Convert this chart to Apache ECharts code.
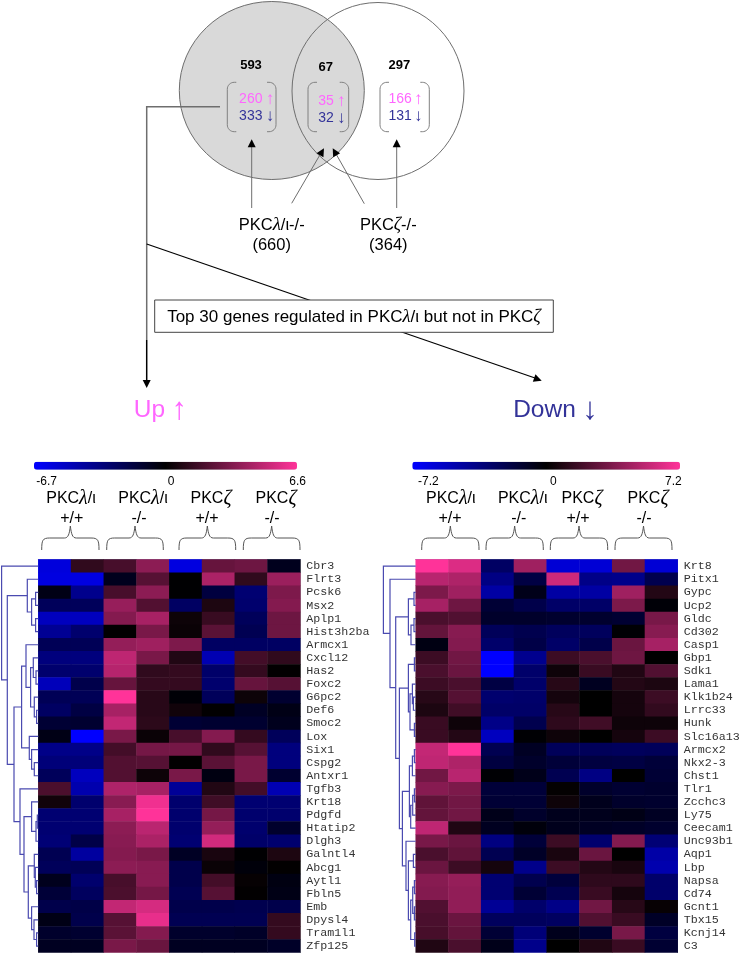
<!DOCTYPE html>
<html>
<head>
<meta charset="utf-8">
<style>
    html, body { margin: 0; padding: 0; background: #fff; }
    #chart { width: 747px; height: 953px; }
</style>
<script src="https://cdn.jsdelivr.net/npm/echarts@6/dist/echarts.min.js"></script>
</head>
<body>
<div id="chart"></div>
<script>
const upGenes = ['Cbr3', 'Flrt3', 'Pcsk6', 'Msx2', 'Aplp1', 'Hist3h2ba', 'Armcx1', 'Cxcl12', 'Has2', 'Foxc2',
    'G6pc2', 'Def6', 'Smoc2', 'Lox', 'Six1', 'Cspg2', 'Antxr1', 'Tgfb3', 'Krt18', 'Pdgfd',
    'Htatip2', 'Dlgh3', 'Galntl4', 'Abcg1', 'Aytl1', 'Fbln5', 'Emb', 'Dpysl4', 'Tram1l1', 'Zfp125']
const downGenes = ['Krt8', 'Pitx1', 'Gypc', 'Ucp2', 'Gldc', 'Cd302', 'Casp1', 'Gbp1', 'Sdk1', 'Lama1',
    'Klk1b24', 'Lrrc33', 'Hunk', 'Slc16a13', 'Armcx2', 'Nkx2-3', 'Chst1', 'Tlr1', 'Zcchc3', 'Ly75',
    'Ceecam1', 'Unc93b1', 'Aqp1', 'Lbp', 'Napsa', 'Cd74', 'Gcnt1', 'Tbx15', 'Kcnj14', 'C3']
const samples = ['1', '2', '3', '4', '5', '6', '7', '8']

// log ratios, one row per gene
const upValues = [
    [-5.8, 1.2, 1.8, 3.6, -5.9, 2.6, 2.8, -0.8],
    [-5.9, -5.9, -0.8, 2.2, -0.1, 4.4, 1.2, 4.0],
    [-0.6, -3.7, 1.8, 3.6, -0.1, -1.7, -3.0, 3.2],
    [-2.4, -2.4, 3.9, 2.1, -2.6, 0.7, -2.9, 3.4],
    [-5.0, -5.0, 3.4, 4.3, 0.3, 1.4, -2.4, 2.8],
    [-3.9, -2.9, 0.0, 3.1, 0.2, 2.3, -2.2, 2.8],
    [-2.3, -2.3, 3.8, 4.1, 3.2, -2.6, -2.6, -2.6],
    [-3.3, -3.3, 4.9, 3.1, 0.8, -4.7, 1.7, 1.2],
    [-2.9, -2.9, 4.7, 1.2, 1.3, -2.8, 1.3, 0.0],
    [-4.9, -2.0, 2.6, 1.3, 1.3, -2.9, 2.6, 2.2],
    [-2.3, -2.3, 6.6, 1.0, -0.2, -2.4, 0.3, -1.3],
    [-2.6, -1.8, 4.3, 1.0, 0.4, 0.0, -1.0, -0.6],
    [-1.4, -1.3, 5.0, 1.1, -1.4, -1.3, -1.3, -0.8],
    [-0.6, -6.7, 3.1, 0.2, 1.8, 3.4, 1.3, -2.4],
    [-3.6, -3.6, 1.7, 3.0, 3.0, 1.2, 2.2, -3.3],
    [-3.2, -3.2, 2.1, 2.2, 0.0, 2.3, 3.1, -3.3],
    [-2.4, -5.0, 2.1, 0.3, 3.1, -0.5, 3.1, -1.3],
    [1.9, -4.6, 4.5, 4.3, -4.0, 0.8, 1.7, -4.7],
    [0.4, -2.9, 3.5, 6.2, -2.9, 1.6, -3.0, -3.0],
    [-3.0, -3.0, 4.3, 6.6, -2.9, 3.0, -2.9, -2.9],
    [-3.0, -3.0, 3.6, 4.8, -2.9, 3.8, -2.9, -1.2],
    [-3.1, -1.9, 3.5, 4.4, -3.0, 5.4, -2.8, -2.9],
    [-2.2, -4.2, 3.4, 3.1, -1.0, 0.6, -0.1, 0.7],
    [-2.4, -2.3, 3.6, 3.5, -2.0, 0.2, -0.3, 0.0],
    [-0.8, -2.9, 1.8, 3.5, -2.0, 1.7, 0.1, -0.5],
    [-1.5, -2.5, 1.9, 3.0, -2.2, 2.2, 0.0, -0.6],
    [-2.0, -1.9, 5.0, 5.5, -2.0, -2.0, -2.1, -2.0],
    [-0.6, -2.0, 2.2, 6.0, -2.2, -2.2, -2.2, 1.3],
    [-1.2, -1.3, 2.3, 3.4, -1.2, -1.2, -1.1, 1.3],
    [-0.9, -0.9, 3.1, 2.7, -0.9, -0.9, -0.9, -1.1]
]
const downValues = [
    [7.2, 6.2, -2.8, 4.5, -6.0, -6.0, 3.2, -6.0],
    [5.2, 4.9, -3.7, -1.9, 5.8, -3.8, -3.9, -2.2],
    [3.5, 4.5, -4.6, -0.7, -4.6, -4.6, 4.5, 1.0],
    [4.7, 3.1, -1.5, -2.1, -2.9, -2.9, 3.5, -0.2],
    [2.1, 2.3, -1.2, -1.2, -1.3, -1.3, -1.4, 3.4],
    [2.8, 3.8, -2.5, -2.2, -2.6, -2.6, -0.1, 3.8],
    [-0.5, 3.7, -3.0, -2.0, -2.9, -2.1, 3.0, 4.7],
    [1.7, 3.2, -7.2, -4.0, 1.7, 2.1, 3.1, 0.0],
    [2.1, 3.0, -7.2, -3.0, 0.4, 1.6, 0.9, 2.3],
    [1.7, 2.1, -1.9, -3.0, 1.1, -0.9, 1.0, 0.8],
    [1.1, 2.4, -3.1, -3.0, 0.6, 0.0, 0.6, 1.7],
    [0.8, 1.8, -2.9, -2.9, 1.1, 0.0, 0.6, 1.4],
    [1.6, 0.4, -3.8, -2.2, 1.3, 1.8, 0.4, 0.4],
    [1.6, 1.0, -5.4, -0.1, 0.4, 0.0, 0.6, 1.7],
    [5.5, 7.2, -2.3, -1.0, -2.5, -2.5, -2.6, -2.5],
    [5.4, 4.9, -1.8, -1.2, -1.6, -1.8, -1.9, -1.6],
    [3.2, 5.2, -0.1, -0.7, -2.3, -3.7, 0.0, -1.5],
    [3.8, 3.5, -1.6, -1.6, 0.1, -1.2, -1.4, -1.3],
    [2.7, 3.2, -1.5, -1.5, 0.4, -0.8, -1.2, -1.3],
    [2.8, 3.2, -0.7, -1.2, -0.8, -0.8, -0.6, -1.0],
    [5.4, 0.9, -0.9, -0.3, -0.8, -1.0, -1.1, -1.3],
    [3.4, 3.0, -3.6, -1.6, 1.7, -3.1, 3.7, -3.3],
    [2.1, 2.7, -2.3, -1.1, 0.7, 3.0, 0.0, -4.7],
    [3.0, 1.7, 0.6, -3.9, 1.7, 1.0, 0.7, -4.9],
    [3.8, 4.2, -3.2, -2.2, -1.7, 1.3, 1.3, -3.0],
    [3.7, 4.1, -3.2, -1.5, -2.3, 1.6, 0.6, -3.0],
    [2.3, 4.1, -4.2, -3.0, -3.8, 3.2, 1.1, 0.2],
    [2.1, 3.0, -2.6, -2.6, -2.7, 2.3, 1.6, -1.1],
    [2.0, 2.8, -1.5, -3.4, -0.8, -1.3, 3.4, -1.8],
    [0.9, 2.1, -0.7, -3.9, 0.0, 0.9, 1.6, -1.4]
]

// clustering trees: [merge height, child, child], a bare number is a gene row
const upTree = [36.7,
    0,
    [31,
        [11, 1, [6.7, [2.7, 2, 3], [2.7, 4, 5]]],
        [24.3,
            [16.7,
                [12.3, 6, [7.7, [5, 7, [2.3, 8, 9]], [4, 10, [1.7, 11, 12]]]],
                [9, 13, [6.7, 14, [4, 15, 16]]]
            ],
            [18.3,
                17,
                [14.3,
                    [6.7, 18, [2.3, [1, 19, 20], 21]],
                    [10,
                        [4, 22, [3, 23, [1.7, 24, 25]]],
                        [6.7, 26, [4.3, 27, [1.7, 28, 29]]]
                    ]
                ]
            ]
        ]
    ]
]
const downTree = [32.3,
    0,
    [25.7,
        1,
        [20,
            [7.3, [1.7, 2, 3], [4.7, [1.7, 4, 5], 6]],
            [16.3,
                [7.3, [1.3, 7, 8], [5.7, [3.3, 9, [2.3, 10, 11]], [1.3, 12, 13]]],
                [13.3,
                    [6.3,
                        [3.3, [1.3, 14, 15], 16],
                        [5, [3, [1.3, 17, 18], 19], 20]
                    ],
                    [9.7,
                        21,
                        [7.3,
                            [2.3, 22, 23],
                            [5, [3, [1.3, 24, 25], [1.3, 26, 27]], [1, 28, 29]]
                        ]
                    ]
                ]
            ]
        ]
    ]
]

const upRange = [-6.7, 6.6]
const downRange = [-7.2, 7.2]
const upTicks = ['-6.7', '0', '6.6']
const downTicks = ['-7.2', '0', '7.2']
const genotypes = ['+/+', '-/-', '+/+', '-/-']

const lineGrey = '#6e6e6e'
const pink = '#ff66ff'
const navy = '#333399'
const treeBlue = '#4a4ab0'
const sans = '"Liberation Sans", Arial, sans-serif'

let dom = echarts.init(document.getElementById('chart'))

function heatData(rows) {
    let out = []
    rows.forEach((row, r) => row.forEach((v, c) => out.push([c, r, v])))
    return out
}

// flatten a tree into one link per merge: [height, rowA, rowB, heightA, heightB]
function treeLinks(node, links) {
    if (typeof node === 'number') return { h: 0, y: node + 0.5 }
    let a = treeLinks(node[1], links)
    let b = treeLinks(node[2], links)
    links.push([node[0], a.y, b.y, a.h, b.h])
    return { h: node[0], y: (a.y + b.y) / 2 }
}

function renderLink(params, api) {
    let h = api.value(0)
    let pts = [
        api.coord([api.value(3), api.value(1)]),
        api.coord([h, api.value(1)]),
        api.coord([h, api.value(2)]),
        api.coord([api.value(4), api.value(2)])
    ]
    return { type: 'polyline', shape: { points: pts }, style: { stroke: treeBlue, lineWidth: 1.2, fill: 'none' } }
}

function txt(x, y, text, size, color, extra) {
    return {
        type: 'text',
        style: Object.assign({
            x: x, y: y, text: text, fill: color || '#000',
            font: size + 'px ' + sans,
            align: 'center', verticalAlign: 'middle'
        }, extra || {})
    }
}

// label with the greek letter slanted, like the symbol font in the figure
function greek(x, y, text, size, greekSize) {
    return txt(x, y, '{n|' + text + '}', size, '#000', {
        fontFamily: 'Liberation Sans', fontSize: size,
        rich: { i: { fontFamily: 'Liberation Serif', fontStyle: 'italic', fontSize: greekSize || size + 1, fill: '#000' },
                n: { fontFamily: 'Liberation Sans', fontSize: size, fill: '#000' } }
    })
}

function seg(x1, y1, x2, y2, color, width) {
    return { type: 'line', shape: { x1, y1, x2, y2 }, style: { stroke: color || lineGrey, lineWidth: width || 1 } }
}

// filled head with its tip at (x, y), pointing along the incoming direction
function head(x, y, fromX, fromY, color) {
    let dx = x - fromX, dy = y - fromY
    let len = Math.sqrt(dx * dx + dy * dy)
    dx /= len; dy /= len
    let bx = x - dx * 8, by = y - dy * 8
    return {
        type: 'polygon',
        shape: { points: [[x, y], [bx - dy * 4, by + dx * 4], [bx + dy * 4, by - dx * 4]] },
        style: { fill: color || '#000' }
    }
}

// sampled cubic from a to d, the graphic component has no free path element
function cubic(a, b, c, d) {
    let out = []
    for (let i = 0; i <= 8; i++) {
        let t = i / 8, u = 1 - t
        out.push([
            u * u * u * a[0] + 3 * u * u * t * b[0] + 3 * u * t * t * c[0] + t * t * t * d[0],
            u * u * u * a[1] + 3 * u * u * t * b[1] + 3 * u * t * t * c[1] + t * t * t * d[1]
        ])
    }
    return out
}

function stroke(points, color, width) {
    return { type: 'polyline', shape: { points: points }, style: { stroke: color, lineWidth: width || 1, fill: 'none' } }
}

function bracketSide(x, dir, y0, y1) {
    let r = 7, tick = 9
    return stroke([].concat(
        [[x + dir * tick, y0]],
        cubic([x + dir * r, y0], [x + dir * 3, y0], [x, y0 + 3], [x, y0 + r]),
        cubic([x, y1 - r], [x, y1 - 3], [x + dir * 3, y1], [x + dir * r, y1]),
        [[x + dir * tick, y1]]
    ), '#808080')
}

// curly brace opening down over a sample group
function brace(x0, x1) {
    let m = (x0 + x1) / 2
    let top = 526, mid = 538, low = 550
    return stroke([].concat(
        cubic([x0, low], [x0, mid + 2], [x0 + 1, mid], [x0 + 8, mid]),
        cubic([m - 6, mid], [m - 2, mid], [m - 1, mid - 4], [m, top]),
        cubic([m, top], [m + 1, mid - 4], [m + 2, mid], [m + 6, mid]),
        cubic([x1 - 8, mid], [x1 - 1, mid], [x1, mid + 2], [x1, low])
    ), '#555')
}

let graphics = [
    // venn
    { type: 'ellipse', shape: { cx: 271.8, cy: 90.5, rx: 92.5, ry: 89 }, style: { fill: '#d9d9d9', stroke: lineGrey, lineWidth: 1 } },
    { type: 'ellipse', shape: { cx: 378, cy: 91, rx: 86, ry: 88.5 }, style: { fill: 'none', stroke: lineGrey, lineWidth: 1 } },
    txt(251, 65, '593', 13, '#000', { font: 'bold 13px ' + sans }),
    txt(325.7, 67, '67', 13, '#000', { font: 'bold 13px ' + sans }),
    txt(399.3, 65, '297', 13, '#000', { font: 'bold 13px ' + sans }),
    bracketSide(227.3, 1, 82.3, 131.7), bracketSide(276, -1, 82.3, 131.7),
    bracketSide(308, 1, 82.3, 131.7), bracketSide(348.7, -1, 82.3, 131.7),
    bracketSide(380, 1, 82.3, 131.7), bracketSide(429.3, -1, 82.3, 131.7),
    txt(250.8, 99, '260', 14, pink), txt(270, 99, '↑', 17, pink),
    txt(250.8, 116.5, '333', 14, navy), txt(270, 116.5, '↓', 17, navy),
    txt(326, 101, '35', 14, pink), txt(341.3, 101, '↑', 17, pink),
    txt(326, 118.5, '32', 14, navy), txt(341.3, 118.5, '↓', 17, navy),
    txt(400.2, 99, '166', 14, pink), txt(418.3, 99, '↑', 17, pink),
    txt(400.2, 116.5, '131', 14, navy), txt(418.3, 116.5, '↓', 17, navy),

    // arrows from the labels up into the venn
    seg(251.7, 208, 251.7, 146),
    head(251.7, 139.3, 251.7, 208),
    seg(291.7, 203.3, 321, 153),
    head(324, 148.3, 291.7, 203.3),
    seg(364.3, 203.7, 335.5, 153),
    head(332.7, 148.3, 364.3, 203.7),
    seg(396.7, 208, 396.7, 146),
    head(396.7, 139.3, 396.7, 208),
    greek(271.7, 225, 'PKC}{i|λ}{n|/ι-/-', 16.5, 19),
    txt(271.7, 245.7, '(660)', 16.5),
    greek(388.3, 225, 'PKC}{i|ζ}{n|-/-', 16.5, 18),
    txt(388.3, 245.7, '(364)', 16.5),

    // connector down to the two heatmaps
    stroke([[220, 106.7], [146.7, 106.7], [146.7, 340]], lineGrey, 1.5),
    seg(146.7, 340, 146.7, 382, '#000', 1.5),
    head(146.7, 388, 146.7, 340),
    seg(146.7, 244, 535, 378, '#000', 1.2),
    head(541.7, 380.7, 146.7, 244),
    { type: 'rect', shape: { x: 154.7, y: 300, width: 398.6, height: 32.3 }, style: { fill: '#fff', stroke: '#444', lineWidth: 1 } },
    greek(354, 317, 'Top 30 genes regulated in PKC}{i|λ}{n|/ι but not in PKC}{i|ζ}{n|', 17, 18.5),
    txt(149.5, 410.7, 'Up', 24.5, pink), txt(179.3, 410.7, '↑', 31, pink),
    txt(544.5, 410.7, 'Down', 24.5, navy), txt(590, 410.7, '↓', 31, navy)
]

// colour bar ticks
const upTickX = [46.7, 171, 297.7]
const downTickX = [428.3, 553.3, 673.3]
upTicks.forEach((t, i) => graphics.push(txt(upTickX[i], 482, t, 12)))
downTicks.forEach((t, i) => graphics.push(txt(downTickX[i], 482, t, 12)))

// sample group headers
const upHeadX = [71, 143, 211, 276]
const upTypeX = [71.7, 139, 207, 272]
const downHeadX = [450.8, 522.7, 582, 648]
const downTypeX = [450, 518.7, 578, 644]
const upBrace = [[41.7, 99], [106.7, 163.3], [179, 235.7], [243.3, 300]]
const downBrace = [[421.7, 479], [486, 543.3], [550.3, 607.7], [615, 672]]
const headers = ['PKC}{i|λ}{n|/ι', 'PKC}{i|λ}{n|/ι', 'PKC}{i|ζ}{n|', 'PKC}{i|ζ}{n|']
headers.forEach((h, i) => {
    graphics.push(greek(upHeadX[i], 499, h, 16, 20))
    graphics.push(greek(downHeadX[i], 499, h, 16, 20))
    graphics.push(txt(upTypeX[i], 519, genotypes[i], 16))
    graphics.push(txt(downTypeX[i], 519, genotypes[i], 16))
    graphics.push(brace(upBrace[i][0], upBrace[i][1]))
    graphics.push(brace(downBrace[i][0], downBrace[i][1]))
})

let upLinks = []
let downLinks = []
treeLinks(upTree, upLinks)
treeLinks(downTree, downLinks)

const mapTop = 559.6
const mapHeight = 393

function catX(gridIndex) {
    return {
        type: 'category', gridIndex: gridIndex, data: samples, position: 'top',
        axisTick: { show: false }, axisLabel: { show: false },
        axisLine: { lineStyle: { color: '#8f8fb8', width: 1 } },
        splitLine: { show: false }
    }
}
function catY(gridIndex, genes) {
    return {
        type: 'category', gridIndex: gridIndex, data: genes, inverse: true, position: 'right',
        axisTick: { show: false },
        axisLine: { lineStyle: { color: '#9a9a9a', width: 1 } },
        splitLine: { show: false },
        axisLabel: { interval: 0, margin: 6, color: '#333', fontFamily: 'Liberation Mono', fontSize: 11.7 }
    }
}
function treeX(gridIndex, width) {
    return { type: 'value', gridIndex: gridIndex, inverse: true, min: 0, max: width, show: false }
}
function treeY(gridIndex) {
    return { type: 'value', gridIndex: gridIndex, inverse: true, min: 0, max: 30, show: false }
}

let option = {
    animation: false,
    backgroundColor: '#fff',
    grid: [
        { left: 38.3, top: mapTop, width: 262, height: mapHeight },
        { left: 415.7, top: mapTop, width: 262, height: mapHeight },
        { left: 0, top: mapTop, width: 38.3, height: mapHeight },
        { left: 380, top: mapTop, width: 35.7, height: mapHeight }
    ],
    xAxis: [catX(0), catX(1), treeX(2, 38.3), treeX(3, 35.7)],
    yAxis: [catY(0, upGenes), catY(1, downGenes), treeY(2), treeY(3)],
    visualMap: [
        {
            type: 'continuous', seriesIndex: 0, dimension: 2, min: upRange[0], max: upRange[1],
            orient: 'horizontal', left: 34, top: 461.7, itemWidth: 8, itemHeight: 263, padding: 0,
            calculable: false, hoverLink: false, text: null, showLabel: false,
            inRange: { color: ['#0000ff', '#000000', '#ff3399'] }
        },
        {
            type: 'continuous', seriesIndex: 1, dimension: 2, min: downRange[0], max: downRange[1],
            orient: 'horizontal', left: 412.3, top: 461.7, itemWidth: 8, itemHeight: 267.7, padding: 0,
            calculable: false, hoverLink: false, text: null, showLabel: false,
            inRange: { color: ['#0000ff', '#000000', '#ff3399'] }
        }
    ],
    series: [
        { type: 'heatmap', xAxisIndex: 0, yAxisIndex: 0, data: heatData(upValues) },
        { type: 'heatmap', xAxisIndex: 1, yAxisIndex: 1, data: heatData(downValues) },
        { type: 'custom', xAxisIndex: 2, yAxisIndex: 2, data: upLinks, renderItem: renderLink, clip: false, silent: true },
        { type: 'custom', xAxisIndex: 3, yAxisIndex: 3, data: downLinks, renderItem: renderLink, clip: false, silent: true }
    ],
    graphic: { elements: graphics }
}
dom.setOption(option)
</script>
</body>
</html>
